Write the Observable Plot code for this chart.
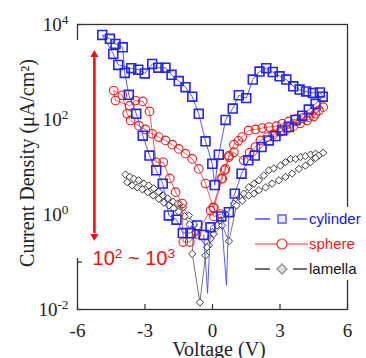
<!DOCTYPE html>
<html><head><meta charset="utf-8">
<script src="https://cdn.jsdelivr.net/npm/d3@7"></script>
<script src="https://cdn.jsdelivr.net/npm/@observablehq/plot@0.6"></script>
<style>body{margin:0;background:#fff}</style>
</head><body><div id="chart"></div>
<script>
// ---- data (Voltage in V, Current density in µA/cm²) ----
const cylV = [-0.39,-0.22,-0.09,0.39,0.62,0.73,0.99,1.29,1.59,1.88,2.18,2.50,2.80,3.10,3.39,3.69,3.99,4.28,4.58,4.90,
  4.77,4.46,4.16,3.87,3.59,3.28,2.98,2.68,2.39,2.09,1.79,1.50,1.17,0.90,0.58,0.28,0.10,
  -0.01,-0.31,-0.61,-0.90,-1.20,-1.50,-1.82,-2.09,-2.41,-2.68,-3.01,-3.30,-3.61,-4.19,-4.41,-4.90,-4.56,-4.31,-3.99,-3.90,
  -3.72,-3.39,-3.10,-2.80,-2.50,-2.21,-1.94,-1.60,-1.32,-0.98,-0.68];
const cylJ = [0.372,0.0219,0.537,0.912,0.0324,1.12,2.75,7.24,13.8,17.4,26.3,36.3,44.7,58.9,69.2,97.7,120,162,214,302,
  372,363,389,427,501,692,813,1000,1200,1020,692,282,324,170,97.7,18.2,4.17,
  11.7,34.7,132,302,479,646,871,1230,1230,1480,933,1120,1200,1410,2400,6030,5010,3890,3310,955,
  331,132,45.7,17.4,8.51,4.47,0.955,0.776,0.407,0.407,0.589];

const sphV = [0.06,0.43,0.58,0.73,0.95,1.39,1.65,1.91,2.13,2.43,2.70,3.00,3.30,3.60,3.90,4.20,4.50,4.73,4.92,
  4.58,4.28,3.99,3.69,3.39,3.10,2.84,2.50,2.21,1.91,1.61,1.32,1.15,0.95,0.73,0.53,0.39,0.03,
  -0.31,-0.61,-0.90,-1.20,-1.50,-1.79,-2.09,-2.39,-2.68,-2.98,-3.27,-3.64,-3.79,-4.01,-4.39,
  -4.31,-3.68,-3.42,-3.10,-2.80,-2.50,-2.19,-1.90,-1.64,-1.35,-1.30,-1.01,-0.71,-0.09,0.06,0.36];
const sphJ = [1.38,5.62,9.12,16.2,20.4,13.8,20.0,26.3,36.3,42.7,47.9,55.0,63.1,72.4,83.2,95.5,115,155,182,
  132,112,107,102,91.2,81.3,72.4,69.2,66.1,61.7,58.9,42.7,35.5,29.5,17.4,8.51,5.75,1.41,
  4.47,9.12,14.8,19.1,24.0,29.5,36.3,42.7,50.1,61.7,74.1,95.5,132,324,407,
  251,195,251,240,148,12.6,12.6,5.75,2.95,1.70,0.263,0.263,0.389,1.20,0.912,1.02];

const lamV = [-3.87,-3.68,-3.49,-3.28,-3.05,-2.83,-2.61,-2.39,-2.19,-1.99,-1.75,-1.54,-1.30,-1.05,-0.83,-0.90,-0.56,
  -0.31,-0.16,-0.09,-0.01,0.21,0.36,0.58,0.95,1.21,1.39,1.61,1.84,2.06,2.28,2.50,2.72,3.02,3.24,3.47,3.69,3.91,4.13,4.36,4.58,4.72,4.92,
  4.58,4.36,4.13,3.84,3.54,3.24,2.95,2.65,2.36,2.06,1.84,1.61,1.32,1.07,0.73,0.43,0.06,-0.24,
  -0.76,-1.02,-1.24,-1.51,-1.73,-1.94,-2.16,-2.39,-2.64,-2.88,-3.12,-3.35,-3.57,-3.79];
const lamJ = [6.92,6.17,5.62,5.25,4.47,4.07,3.55,3.02,2.51,2.19,1.86,1.70,1.41,0.955,0.631,0.148,0.0141,
  0.138,0.224,0.309,0.427,0.589,0.741,1.02,1.70,2.29,2.75,3.72,4.47,5.25,6.61,8.51,9.33,10.7,12.6,14.8,14.8,16.2,17.0,18.2,19.1,17.4,20.0,
  15.5,12.6,10.7,9.12,7.24,6.17,5.25,4.47,3.72,3.24,2.75,2.51,1.95,1.55,0.275,0.589,0.389,0.204,
  0.417,0.617,0.912,1.15,1.35,1.55,1.78,2.14,2.51,2.95,3.39,3.72,4.07,4.79];

const seriesNames = ["cylinder", "sphere", "lamella"];
const xTicks = [-6, -3, 0, 3, 6];
const yTicks = [1e-2, 1, 1e2, 1e4];
const yTickMarks = [1e-2, 1e-1, 1, 10, 100, 1e3, 1e4];
const rangeLabel = ["10^2 ~ 10^3"];
const arrowV = [-5.25];
const arrowJ = [2000, 0.4];
const labelV = [-5.33];
const labelJ = [0.085];

// ---- build ----
const toRows = (V, J) => V.map((v, i) => ({V: v, J: J[i]}));
const cyl = toRows(cylV, cylJ), sph = toRows(sphV, sphJ), lam = toRows(lamV, lamJ);

const W = 366, H = 358, mL = 77, mR = 19, mT = 24, mB = 49;
const fw = W - mL - mR, fh = H - mT - mB;
const BLUE = "#2626e8", RED = "#e02020";
const serif = "'Liberation Serif','Times New Roman',serif";
const sans = "'Liberation Sans',Arial,sans-serif";

const chart = Plot.plot({
  width: W, height: H,
  marginLeft: mL, marginRight: mR, marginTop: mT, marginBottom: mB,
  style: {background: "white", fontFamily: serif, fontSize: "19px", color: "#222", overflow: "visible"},
  x: {domain: [-6, 6]},
  y: {type: "log", domain: [1e-2, 1e4]},
  marks: [
    Plot.frame({stroke: "#333", strokeWidth: 1.3}),
    Plot.tickX(xTicks, {x: d => d, stroke: "#333", strokeWidth: 1.2, insetTop: fh - 5}),
    Plot.tickY(yTickMarks, {y: d => d, stroke: "#333", strokeWidth: 1.2, insetRight: fw - 5}),
    Plot.axisX({ticks: xTicks, tickSize: 0, tickPadding: 14, tickFormat: d => String(d), label: null}),
    Plot.axisY({ticks: yTicks, tickSize: 0, tickPadding: 9, tickFormat: d => "10^" + Math.round(Math.log10(d)), label: null}),
    // lamella
    Plot.line(lam, {x: "V", y: "J", stroke: "#555", strokeWidth: 0.8}),
    Plot.dot(lam, {x: "V", y: "J", symbol: "diamond2", r: 3.3, stroke: "#222", strokeWidth: 0.9, fill: "white"}),
    // sphere
    Plot.line(sph, {x: "V", y: "J", stroke: "#e03a3a", strokeWidth: 0.8}),
    Plot.dot(sph, {x: "V", y: "J", symbol: "circle", r: 4.3, stroke: RED, strokeWidth: 1.1, fill: "none"}),
    // cylinder
    Plot.line(cyl, {x: "V", y: "J", stroke: "#4a4af5", strokeWidth: 0.9}),
    Plot.dot(cyl.filter(d => d.J > 0.05), {x: "V", y: "J", symbol: "square", r: 5, stroke: BLUE, strokeWidth: 1.6, fill: "none"}),
    // red double arrow annotation
    Plot.ruleX(arrowV, {x: d => d, y1: arrowJ[0], y2: arrowJ[1], stroke: "#ee1111", strokeWidth: 2.6}),
    Plot.dot(arrowV, {x: d => d, y: arrowJ[0], symbol: "triangle", r: 3, fill: "#ee1111", stroke: "none", dy: -3}),
    Plot.dot(arrowV, {x: d => d, y: arrowJ[1], symbol: "triangle", r: 3, fill: "#ee1111", stroke: "none", rotate: 180, dy: 3}),
    Plot.text(rangeLabel, {x: labelV, y: labelJ, text: d => d, textAnchor: "start", lineAnchor: "bottom", fill: "#ee1111", fontFamily: sans, fontSize: 20})
  ]
});
document.getElementById("chart").appendChild(chart);

const svg = d3.select(chart);
// superscripts "10^k" -> 10 with raised exponent
function superscript(sel, raise, scale) {
  sel.each(function () {
    const t = d3.select(this);
    const parts = t.text().split(/(\^-?\d+)/).filter(s => s.length);
    t.text(null);
    let raised = false;
    parts.forEach(p => {
      if (p[0] === "^") {
        t.append("tspan").attr("dy", `-${raise}em`).attr("font-size", `${scale}em`).text(p.slice(1));
        raised = true;
      } else {
        const s = t.append("tspan").text(p);
        if (raised) { s.attr("dy", `${(raise * scale).toFixed(3)}em`); raised = false; }
      }
    });
  });
}
superscript(svg.selectAll('g[aria-label="y-axis tick label"] text'), 0.5, 0.7);
superscript(svg.selectAll('g[aria-label="text"] text'), 0.55, 0.68);

// blank strip over the left axis (as in the original figure)
svg.append("rect").attr("x", 70).attr("y", 40).attr("width", 19).attr("height", 218).attr("fill", "white");
// axis titles
svg.append("text").attr("transform", "translate(34,163) rotate(-90)").attr("text-anchor", "middle")
  .attr("font-family", serif).attr("font-size", 20).attr("fill", "#222").text("Current Density (μA/cm²)");
svg.append("text").attr("x", 219).attr("y", 356).attr("text-anchor", "middle")
  .attr("font-family", serif).attr("font-size", 20).attr("fill", "#222").text("Voltage (V)");
// legend
const lg = svg.append("g").attr("text-anchor", "start");
lg.append("rect").attr("x", 250).attr("y", 207).attr("width", 116).attr("height", 73).attr("fill", "white");
const items = [
  {name: seriesNames[0], y: 219, color: "#1414f0", line: "#2020ff"},
  {name: seriesNames[1], y: 244, color: "#f01a1a", line: "#ff3030"},
  {name: seriesNames[2], y: 269, color: "#111", line: "#111"}
];
items.forEach((it, i) => {
  if (i === 1) {
    lg.append("line").attr("x1", 255).attr("x2", 308).attr("y1", it.y).attr("y2", it.y).attr("stroke", it.line).attr("stroke-width", 1.2);
  } else {
    lg.append("line").attr("x1", 255).attr("x2", 270).attr("y1", it.y).attr("y2", it.y).attr("stroke", it.line).attr("stroke-width", 1.2);
    lg.append("line").attr("x1", 293).attr("x2", 307).attr("y1", it.y).attr("y2", it.y).attr("stroke", it.line).attr("stroke-width", 1.2);
  }
  if (i === 0) lg.append("rect").attr("x", 278).attr("y", it.y - 4).attr("width", 8).attr("height", 8).attr("fill", "#eef").attr("stroke", "#6a6af0").attr("stroke-width", 1.6);
  if (i === 1) lg.append("circle").attr("cx", 282).attr("cy", it.y).attr("r", 5).attr("fill", "white").attr("stroke", it.line).attr("stroke-width", 1.2);
  if (i === 2) lg.append("path").attr("d", `M282,${it.y - 5}L287,${it.y}L282,${it.y + 5}L277,${it.y}Z`).attr("fill", "#ddd").attr("stroke", "#999").attr("stroke-width", 1.5);
  lg.append("text").attr("x", 309).attr("y", it.y).attr("dy", "0.35em").attr("text-anchor", "start")
    .attr("font-family", sans).attr("font-size", 15).attr("fill", it.color).text(it.name);
});
</script>
</body></html>
